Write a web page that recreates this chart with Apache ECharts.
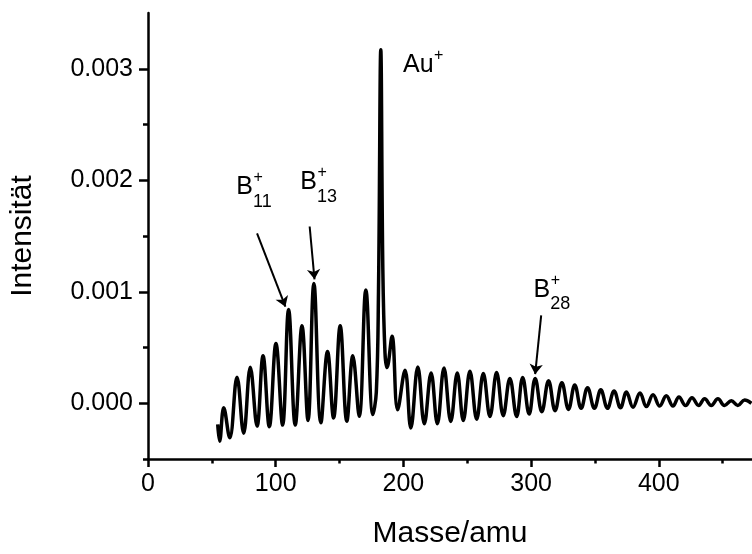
<!DOCTYPE html>
<html>
<head>
<meta charset="utf-8">
<script src="https://cdn.jsdelivr.net/npm/echarts@6/dist/echarts.min.js"></script>
<style>
html,body{margin:0;padding:0;background:#fff;}
#chart{width:752px;height:554px;}
</style>
</head>
<body>
<div id="chart"></div>
<script>
// ---- data ----
const masse = [54.6,56.1,59.3,64.0,69.7,74.9,80.1,85.4,90.1,95.0,100.2,105.4,110.1,115.3,120.6,125.3,129.9,135.4,140.6,145.3,150.5,155.7,160.4,165.4,170.6,176.1,
  178.8,180.5,182.3,183.9,185.6,187.2,191.1,195.5,
  201.3,205.8,211.3,216.4,221.7,226.6,231.8,237.1,242.2,246.9,252.1,257.4,262.6,267.8,273.0,278.2,283.4,288.7,293.4,298.5,303.2,308.4,313.7,318.8,324.1,329.3,334.2,339.2,344.2,349.6,354.6,359.8,365.0,370.0,374.7,379.8,385.3,390.3,395.5,400.7,405.9,411.1,415.8,421.0,426.0,431.2,435.9,441.1,446.3,451.5,456.8,461.9,467.2,472.6];
const intensitaet = [-0.00019,-0.00034,-0.00004,-0.00031,0.000234,-0.00027,0.000322,-0.000205,0.000425,-0.00021,0.000536,-0.000196,0.00084,-0.000196,0.000694,-0.000155,0.001075,-0.000176,0.000465,-0.000132,0.000694,-0.000161,0.000425,-0.000117,0.001016,-0.000102,
  0.0001,0.001,0.00317,0.0012,0.00045,0.00032,0.0006,-0.000058,
  0.000296,-0.000222,0.000325,-0.000184,0.000272,-0.000184,0.000316,-0.000163,0.000272,-0.000155,0.000287,-0.000143,0.000267,-0.000119,0.000276,-0.000111,0.000223,-0.000119,0.000232,-0.000097,0.000223,-0.000076,0.000202,-0.000067,0.000184,-0.000055,0.000164,-0.000045,0.00014,-0.000045,0.00012,-0.000045,0.00011,-0.00004,0.0001,-0.000035,0.000092,-0.00003,0.000076,-0.000025,0.000068,-0.000025,0.000056,-0.00002,0.00005,-0.00002,0.00004,-0.00002,0.00004,-0.00002,0.000022,-0.00002,0.00003,0.0];
const xMajorTicks = [0,100,200,300,400];
const xMinorTicks = [50,150,250,350,450];
const yMajorTicks = [0,0.001,0.002,0.003];
const yMinorTicks = [-0.0005,0.0005,0.0015,0.0025];
// annotations
const labelMain = ['Au','B','B','B'];
const labelSup = ['+','+','+','+'];
const labelSub = ['','11','13','28'];
const labelAt = [[199.7,0.003018],[69.2,0.001924],[119.3,0.001968],[301.9,0.001002]];
const arrowFrom = [[85.4,0.001524],[126.6,0.001585],[307.9,0.000789]];
const arrowTo = [[107.6,0.000866],[130.4,0.001111],[303.2,0.000261]];

const FONT = '"Liberation Sans", Arial, Helvetica, sans-serif';
const chart = echarts.init(document.getElementById('chart'), null, {renderer:'canvas'});
const seriesData = masse.map((m,i)=>[m,intensitaet[i]]);

const axisLineStyle = {color:'#000', width:2.5};
chart.setOption({
  animation:false,
  backgroundColor:'#fff',
  grid:{left:147.5, right:0, top:13, bottom:85.5, containLabel:false},
  xAxis:[{
    type:'value', min:0, max:473, position:'bottom',
    axisLine:{show:true, onZero:false, lineStyle:axisLineStyle},
    axisTick:{show:true, inside:false, length:8, lineStyle:axisLineStyle, customValues:xMajorTicks},
    axisLabel:{show:true, customValues:xMajorTicks, color:'#000', fontSize:25, fontFamily:FONT, margin:13},
    splitLine:{show:false},
    name:'Masse/amu', nameLocation:'middle', nameGap:60,
    nameTextStyle:{color:'#000', fontSize:30, fontFamily:FONT}
  },{
    type:'value', min:0, max:473, position:'bottom', gridIndex:0,
    axisLine:{show:false, onZero:false},
    axisTick:{show:true, inside:false, length:4.5, lineStyle:axisLineStyle, customValues:xMinorTicks},
    axisLabel:{show:false}, splitLine:{show:false}
  }],
  yAxis:[{
    type:'value', min:-0.0005, max:0.0035, position:'left',
    axisLine:{show:true, onZero:false, lineStyle:axisLineStyle},
    axisTick:{show:true, inside:false, length:9, lineStyle:axisLineStyle, customValues:yMajorTicks},
    axisLabel:{show:true, customValues:yMajorTicks, color:'#000', fontSize:25, fontFamily:FONT, margin:15,
      formatter:(v)=>Number(v).toFixed(3)},
    splitLine:{show:false},
    name:'Intensität', nameLocation:'middle', nameGap:110,
    nameTextStyle:{color:'#000', fontSize:30, fontFamily:FONT}
  },{
    type:'value', min:-0.0005, max:0.0035, position:'left', gridIndex:0,
    axisLine:{show:false, onZero:false},
    axisTick:{show:true, inside:false, length:5, lineStyle:axisLineStyle, customValues:yMinorTicks},
    axisLabel:{show:false}, splitLine:{show:false}
  }],
  series:[{
    type:'line', xAxisIndex:0, yAxisIndex:0,
    data:seriesData, showSymbol:false, smooth:0.4,
    lineStyle:{color:'#000', width:3.5}, itemStyle:{color:'#000'},
    clip:false,
    markLine:{
      silent:true, animation:false, symbol:['none','arrow'], symbolSize:10,
      label:{show:false},
      lineStyle:{color:'#000', width:2, type:'solid'},
      data: arrowFrom.map((f,i)=>[{coord:f},{coord:arrowTo[i]}])
    }
  }]
});

// text annotations positioned from data coordinates
const ctx = document.createElement('canvas').getContext('2d');
ctx.font = '25px ' + FONT;
const graphics = [];
labelAt.forEach((p,i)=>{
  const px = chart.convertToPixel({gridIndex:0}, p);
  const w = ctx.measureText(labelMain[i]).width;
  graphics.push({type:'text', left:px[0], top:px[1]-14, silent:true,
    style:{text:labelMain[i], fontSize:25, fontFamily:FONT, fill:'#000'}});
  graphics.push({type:'text', left:px[0]+w+0.5, top:px[1]-19, silent:true,
    style:{text:labelSup[i], fontSize:16, fontFamily:FONT, fill:'#000'}});
  if (labelSub[i]) {
    graphics.push({type:'text', left:px[0]+w, top:px[1]+4, silent:true,
      style:{text:labelSub[i], fontSize:18, fontFamily:FONT, fill:'#000'}});
  }
});
chart.setOption({graphic:graphics});
</script>
</body>
</html>
